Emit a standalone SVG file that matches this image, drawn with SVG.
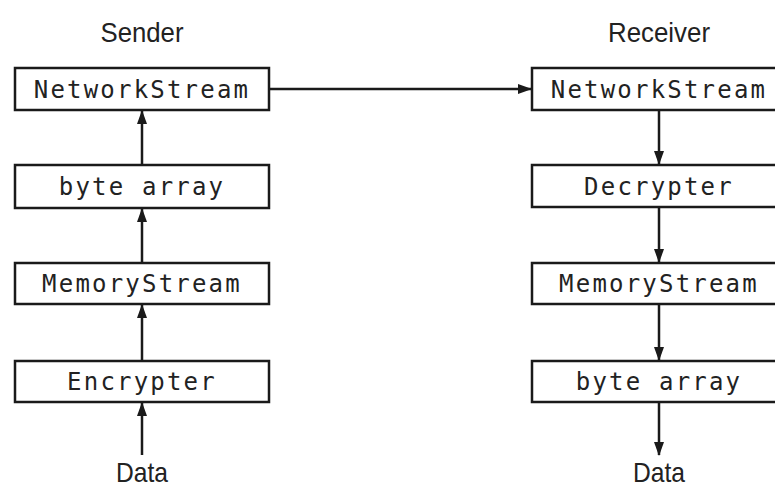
<svg xmlns="http://www.w3.org/2000/svg" width="775" height="489" viewBox="0 0 775 489">
<style>
.box{fill:#fff;stroke:#1a1a1a;stroke-width:2.5}
.mono{font-family:"DejaVu Sans Mono",monospace;font-size:24px;letter-spacing:2.2px;fill:#222;text-anchor:middle}
.lbl{font-family:"Liberation Sans Narrow","Liberation Sans",Arial,sans-serif;font-size:28px;fill:#222;text-anchor:middle}
.conn{stroke:#1a1a1a;stroke-width:2.5;fill:none}
</style>
<defs>
<marker id="ah" viewBox="0 0 14 10" refX="13" refY="5" markerWidth="14" markerHeight="10" markerUnits="userSpaceOnUse" orient="auto">
<path d="M0,0 L14,5 L0,10 z" fill="#1a1a1a"/>
</marker>
</defs>
<rect width="775" height="489" fill="#fff"/>
<text class="lbl" x="142" y="42" textLength="83" lengthAdjust="spacingAndGlyphs">Sender</text>
<text class="lbl" x="659" y="42" textLength="102" lengthAdjust="spacingAndGlyphs">Receiver</text>
<text class="lbl" x="142" y="482" textLength="52" lengthAdjust="spacingAndGlyphs">Data</text>
<text class="lbl" x="659" y="482" textLength="52" lengthAdjust="spacingAndGlyphs">Data</text>
<g id="connectors">
<line class="conn" x1="142" y1="455" x2="142" y2="403" marker-end="url(#ah)"/>
<line class="conn" x1="142" y1="361" x2="142" y2="305" marker-end="url(#ah)"/>
<line class="conn" x1="142" y1="263" x2="142" y2="209" marker-end="url(#ah)"/>
<line class="conn" x1="142" y1="165" x2="142" y2="111" marker-end="url(#ah)"/>
<line class="conn" x1="269" y1="89" x2="531" y2="89" marker-end="url(#ah)"/>
<line class="conn" x1="659" y1="110" x2="659" y2="164" marker-end="url(#ah)"/>
<line class="conn" x1="659" y1="207" x2="659" y2="262" marker-end="url(#ah)"/>
<line class="conn" x1="659" y1="304" x2="659" y2="360" marker-end="url(#ah)"/>
<line class="conn" x1="659" y1="402" x2="659" y2="455" marker-end="url(#ah)"/>
</g>
<g id="s-network"><rect class="box" x="15" y="68" width="254" height="42"/><text class="mono" x="142" y="98">NetworkStream</text></g>
<g id="s-bytes"><rect class="box" x="15" y="165" width="254" height="43"/><text class="mono" x="142" y="195">byte array</text></g>
<g id="s-memory"><rect class="box" x="15" y="263" width="254" height="41"/><text class="mono" x="142" y="292">MemoryStream</text></g>
<g id="s-encrypter"><rect class="box" x="15" y="361" width="254" height="41"/><text class="mono" x="142" y="390">Encrypter</text></g>
<g id="r-network"><rect class="box" x="532" y="68" width="254" height="42"/><text class="mono" x="659" y="98">NetworkStream</text></g>
<g id="r-decrypter"><rect class="box" x="532" y="165" width="254" height="42"/><text class="mono" x="659" y="195">Decrypter</text></g>
<g id="r-memory"><rect class="box" x="532" y="263" width="254" height="41"/><text class="mono" x="659" y="292">MemoryStream</text></g>
<g id="r-bytes"><rect class="box" x="532" y="361" width="254" height="41"/><text class="mono" x="659" y="390">byte array</text></g>
</svg>
